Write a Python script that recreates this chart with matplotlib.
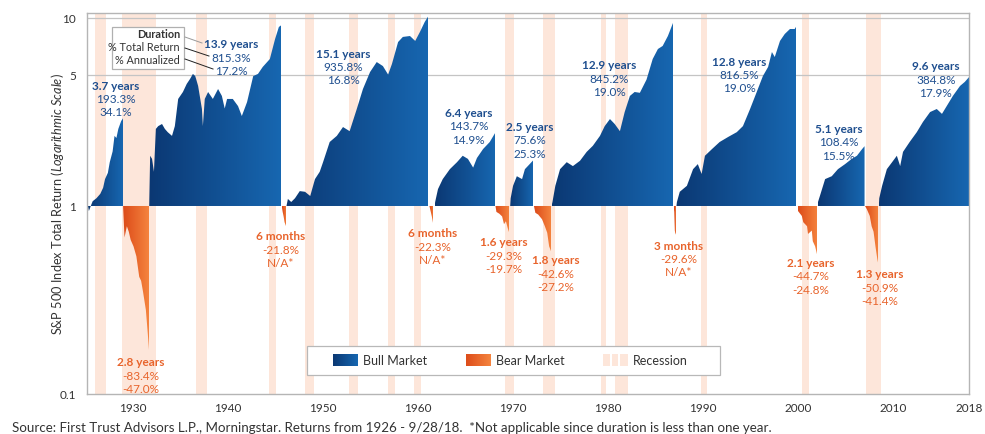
import numpy as np
import matplotlib
matplotlib.use('Agg')
import matplotlib.pyplot as plt
from matplotlib.colors import LinearSegmentedColormap
from matplotlib.patches import Polygon, Rectangle
from matplotlib.transforms import blended_transform_factory, ScaledTranslation

plt.rcParams['font.family'] = ['Lato', 'DejaVu Sans']
plt.rcParams['mathtext.fontset'] = 'custom'
plt.rcParams['mathtext.it'] = 'Lato:italic'
plt.rcParams['mathtext.rm'] = 'Lato'

# --- data: growth of $1 within each market phase ---
bull1_years = [1926.0, 1926.1, 1926.3, 1926.5, 1926.9, 1927.3, 1927.6, 1927.8, 1928.1, 1928.3, 1928.6, 1928.8, 1929.0, 1929.2, 1929.5, 1929.7]
bull1_vals = [1.00, 0.94, 1.00, 1.06, 1.10, 1.16, 1.25, 1.39, 1.50, 1.71, 1.95, 2.36, 2.30, 2.57, 2.83, 2.93]

bear1_years = [1929.7, 1929.85, 1930.1, 1930.3, 1930.5, 1930.8, 1931.1, 1931.4, 1931.6, 1931.8, 1932.1, 1932.3, 1932.45]
bear1_vals = [1.00, 0.68, 0.78, 0.73, 0.66, 0.61, 0.54, 0.42, 0.40, 0.35, 0.28, 0.21, 0.166]

bull2_years = [1932.45, 1932.55, 1932.75, 1932.95, 1933.15, 1933.4, 1933.8, 1934.1, 1934.4, 1934.85, 1935.15, 1935.5, 1936.0, 1936.4, 1936.75, 1937.05, 1937.3, 1937.6, 1938.0, 1938.1, 1938.3, 1938.65, 1939.15, 1939.7, 1940.1, 1940.4, 1940.65, 1941.25, 1941.8, 1942.2, 1942.75, 1943.4, 1943.9, 1944.4, 1945.15, 1945.7, 1946.1, 1946.35]
bull2_vals = [1.00, 1.85, 1.78, 1.52, 2.57, 2.66, 2.73, 2.57, 2.47, 2.36, 2.66, 3.71, 4.04, 4.46, 4.74, 5.04, 4.91, 4.35, 3.28, 2.66, 3.71, 4.04, 3.71, 4.19, 3.85, 3.30, 3.71, 3.71, 3.40, 3.01, 3.57, 4.91, 5.04, 5.49, 6.05, 7.73, 8.96, 9.15]

bear2_years = [1946.4, 1946.5, 1946.6, 1946.7, 1946.85]
bear2_vals = [1.00, 0.93, 0.88, 0.82, 0.782]

bull3_years = [1946.9, 1947.05, 1947.4, 1947.8, 1948.3, 1948.85, 1949.4, 1949.9, 1950.4, 1950.75, 1951.45, 1952.2, 1952.85, 1953.55, 1954.3, 1954.95, 1955.7, 1956.4, 1957.05, 1957.6, 1958.0, 1958.65, 1959.15, 1959.9, 1960.45, 1960.95, 1961.45, 1961.9]
bull3_vals = [1.00, 1.09, 1.05, 1.10, 1.20, 1.19, 1.13, 1.39, 1.52, 1.71, 2.19, 2.36, 2.63, 2.50, 3.28, 4.19, 5.16, 5.83, 5.55, 5.00, 5.69, 7.45, 7.93, 8.02, 7.55, 8.43, 9.52, 10.36]

bear3_years = [1961.95, 1962.05, 1962.2, 1962.35, 1962.45]
bear3_vals = [1.00, 0.95, 0.88, 0.80, 0.777]

bull4_years = [1962.5, 1962.55, 1962.85, 1963.35, 1964.1, 1964.85, 1965.45, 1966.0, 1966.55, 1966.95, 1967.6, 1968.3, 1968.85]
bull4_vals = [1.00, 1.05, 1.23, 1.39, 1.57, 1.71, 1.85, 1.78, 1.60, 1.80, 2.01, 2.19, 2.44]

bear4_years = [1968.9, 1969.0, 1969.3, 1969.6, 1969.8, 1970.0, 1970.2, 1970.4]
bear4_vals = [1.00, 0.93, 0.91, 0.88, 0.80, 0.83, 0.76, 0.707]

bull5_years = [1970.45, 1970.5, 1970.75, 1971.15, 1971.7, 1972.0, 1972.5, 1972.9]
bull5_vals = [1.00, 1.10, 1.28, 1.44, 1.39, 1.57, 1.67, 1.756]

bear5_years = [1972.95, 1973.1, 1973.4, 1973.8, 1974.1, 1974.35, 1974.55, 1974.75]
bear5_vals = [1.00, 0.92, 0.90, 0.85, 0.78, 0.72, 0.61, 0.574]

bull6_years = [1974.8, 1974.9, 1975.2, 1975.7, 1976.4, 1977.05, 1977.8, 1978.5, 1979.15, 1979.9, 1980.4, 1980.95, 1981.45, 1982.0, 1982.5, 1983.05, 1983.55, 1984.1, 1984.8, 1985.45, 1986.0, 1986.5, 1987.05, 1987.6]
bull6_vals = [1.00, 1.05, 1.28, 1.57, 1.71, 1.63, 1.74, 1.94, 2.09, 2.36, 2.66, 2.90, 2.73, 2.50, 3.16, 3.85, 4.04, 4.00, 4.70, 6.05, 6.84, 7.10, 8.02, 9.45]

bear6_years = [1987.65, 1987.72, 1987.78, 1987.85, 1987.9]
bear6_vals = [1.00, 0.93, 0.74, 0.704, 0.72]

bull7_years = [1987.95, 1988.0, 1988.3, 1989.05, 1989.7, 1990.2, 1990.6, 1990.95, 1991.7, 1992.5, 1993.4, 1994.3, 1994.95, 1995.7, 1996.4, 1997.05, 1997.6, 1998.0, 1998.3, 1998.85, 1999.35, 1999.9, 2000.4, 2000.65]
bull7_vals = [1.00, 1.05, 1.19, 1.28, 1.57, 1.67, 1.48, 1.85, 2.01, 2.19, 2.33, 2.47, 2.66, 3.28, 4.04, 4.91, 5.49, 6.59, 6.20, 7.55, 8.22, 8.74, 8.74, 9.17]

bear7_years = [2000.7, 2000.75, 2001.15, 2001.3, 2001.7, 2001.8, 2002.2, 2002.3, 2002.55, 2002.75]
bear7_vals = [1.00, 0.94, 0.885, 0.82, 0.78, 0.71, 0.74, 0.65, 0.61, 0.553]

bull8_years = [2002.8, 2002.85, 2003.05, 2003.6, 2004.3, 2004.95, 2005.7, 2006.4, 2006.95, 2007.5, 2007.75]
bull8_vals = [1.00, 1.05, 1.13, 1.39, 1.44, 1.57, 1.67, 1.78, 1.85, 2.01, 2.08]

bear8_years = [2007.8, 2008.0, 2008.3, 2008.5, 2008.7, 2008.9, 2009.1, 2009.2]
bear8_vals = [1.00, 0.96, 0.885, 0.78, 0.73, 0.61, 0.52, 0.491]

bull9_years = [2009.25, 2009.3, 2009.6, 2010.1, 2010.65, 2011.15, 2011.5, 2011.8, 2012.5, 2013.25, 2013.9, 2014.65, 2015.35, 2015.9, 2016.4, 2017.05, 2017.8, 2018.3, 2018.75]
bull9_vals = [1.00, 1.10, 1.28, 1.57, 1.71, 1.85, 1.63, 1.94, 2.19, 2.47, 2.80, 3.16, 3.28, 3.09, 3.40, 3.85, 4.35, 4.57, 4.85]

recession_starts = [1926.75, 1929.6, 1937.4, 1945.1, 1948.9, 1953.5, 1957.6, 1960.3, 1969.9, 1973.9, 1980.0, 1981.5, 1990.5, 2001.2, 2007.9]
recession_ends = [1927.87, 1933.2, 1938.5, 1945.8, 1949.8, 1954.4, 1958.3, 1961.1, 1970.9, 1975.2, 1980.5, 1982.9, 1991.2, 2001.9, 2009.5]

bull_text = [("3.7 years", "193.3%", "34.1%"), ("13.9 years", "815.3%", "17.2%"),
             ("15.1 years", "935.8%", "16.8%"), ("6.4 years", "143.7%", "14.9%"),
             ("2.5 years", "75.6%", "25.3%"), ("12.9 years", "845.2%", "19.0%"),
             ("12.8 years", "816.5%", "19.0%"), ("5.1 years", "108.4%", "15.5%"),
             ("9.6 years", "384.8%", "17.9%")]
bear_text = [("2.8 years", "-83.4%", "-47.0%"), ("6 months", "-21.8%", "N/A*"),
             ("6 months", "-22.3%", "N/A*"), ("1.6 years", "-29.3%", "-19.7%"),
             ("1.8 years", "-42.6%", "-27.2%"), ("3 months", "-29.6%", "N/A*"),
             ("2.1 years", "-44.7%", "-24.8%"), ("1.3 years", "-50.9%", "-41.4%")]

bulls = [(bull1_years, bull1_vals), (bull2_years, bull2_vals), (bull3_years, bull3_vals),
         (bull4_years, bull4_vals), (bull5_years, bull5_vals), (bull6_years, bull6_vals),
         (bull7_years, bull7_vals), (bull8_years, bull8_vals), (bull9_years, bull9_vals)]
bears = [(bear1_years, bear1_vals), (bear2_years, bear2_vals), (bear3_years, bear3_vals),
         (bear4_years, bear4_vals), (bear5_years, bear5_vals), (bear6_years, bear6_vals),
         (bear7_years, bear7_vals), (bear8_years, bear8_vals)]

# label anchors: x in years, y in axes fraction (top line)
bull_tx = [1928.95, 1941.1, 1952.85, 1966.1, 1972.5, 1980.85, 1994.6, 2005.05, 2015.25]
bull_ty = [0.811, 0.919, 0.895, 0.740, 0.703, 0.864, 0.874, 0.698, 0.861]
bear_tx = [1931.6, 1946.3, 1962.3, 1969.8, 1975.25, 1988.2, 2002.1, 2009.35]
bear_ty = [0.084, 0.415, 0.423, 0.399, 0.352, 0.391, 0.346, 0.315]

bull_cmap = LinearSegmentedColormap.from_list('bull', ['#0b3873', '#1767b1'])
bear_cmap = LinearSegmentedColormap.from_list('bear', ['#dd4c1a', '#f5853f'])
band_color = '#fde6da'
blue_txt = '#1f4f8f'
orange_txt = '#e8642c'

fig = plt.figure(figsize=(9.85, 4.35), dpi=100)
ax = fig.add_axes([0.0883, 0.092, 0.8955, 0.8758])
ax.set_yscale('log')

for a, b in zip(recession_starts, recession_ends):
    ax.axvspan(a, b, color=band_color, lw=0, zorder=0)

for lvl in [5, 10]:
    ax.axhline(lvl, color='#c4c4c4', lw=0.9, zorder=1)

grad = np.linspace(0, 1, 256).reshape(1, -1)


def gradient_fill(years, vals, cmap):
    verts = [(years[0], 1.0)] + list(zip(years, vals)) + [(years[-1], 1.0)]
    poly = Polygon(verts, closed=True, fc='none', ec='none')
    ax.add_patch(poly)
    im = ax.imshow(grad, extent=[years[0], years[-1], 0.1, 11], aspect='auto',
                   cmap=cmap, origin='lower', zorder=2, interpolation='bilinear')
    im.set_clip_path(poly)


for yrs, v in bulls:
    gradient_fill(yrs, v, bull_cmap)
for yrs, v in bears:
    gradient_fill(yrs, v, bear_cmap)

ax.set_aspect('auto')
ax.set_xlim(1925.9, 2018.75)
ax.set_ylim(0.1, 10.63)

ax.set_yticks([0.1, 1, 5, 10])
ax.set_yticklabels(['0.1', '1', '5', '10'])
ax.yaxis.set_minor_locator(matplotlib.ticker.NullLocator())
ax.set_xticks([1930, 1940, 1950, 1960, 1970, 1980, 1990, 2000, 2010, 2018])
ax.tick_params(length=0, labelsize=8.5, colors='#333333')
ax.tick_params(axis='y', pad=8)
ax.tick_params(axis='x', pad=6)
shift = ScaledTranslation(0.07, 0, fig.dpi_scale_trans)
for lab in ax.get_xticklabels():
    lab.set_transform(lab.get_transform() + shift)

for s in ax.spines.values():
    s.set_color('#b5b5b5')
    s.set_linewidth(1.0)

ax.set_ylabel(r'S&P 500 Index Total Return $\it{(Logarithmic\ Scale)}$', fontsize=9.2, color='#333333')
ax.yaxis.set_label_coords(-0.024, 0.5)

tr = blended_transform_factory(ax.transData, ax.transAxes)
step = 0.0354
for (l1, l2, l3), x, y in zip(bull_text, bull_tx, bull_ty):
    ax.text(x, y, l1, transform=tr, ha='center', va='center', fontsize=8.5, fontweight='bold', color=blue_txt, zorder=5)
    ax.text(x, y - step, l2, transform=tr, ha='center', va='center', fontsize=8.5, color=blue_txt, zorder=5)
    ax.text(x, y - 2 * step, l3, transform=tr, ha='center', va='center', fontsize=8.5, color=blue_txt, zorder=5)
for (l1, l2, l3), x, y in zip(bear_text, bear_tx, bear_ty):
    ax.text(x, y, l1, transform=tr, ha='center', va='center', fontsize=8.5, fontweight='bold', color=orange_txt, zorder=5)
    ax.text(x, y - step, l2, transform=tr, ha='center', va='center', fontsize=8.5, color=orange_txt, zorder=5)
    ax.text(x, y - 2 * step, l3, transform=tr, ha='center', va='center', fontsize=8.5, color=orange_txt, zorder=5)

# key box for the label lines
ax.add_patch(Rectangle((0.0283, 0.853), 0.0816, 0.110, transform=ax.transAxes,
                       fc='white', ec='#b0b0b0', lw=0.9, zorder=4))
ax.text(0.1054, 0.945, 'Duration', transform=ax.transAxes, ha='right', va='center', fontsize=7.8, fontweight='bold', color='#333333', zorder=5)
ax.text(0.1054, 0.913, '% Total Return', transform=ax.transAxes, ha='right', va='center', fontsize=7.8, color='#333333', zorder=5)
ax.text(0.1054, 0.879, '% Annualized', transform=ax.transAxes, ha='right', va='center', fontsize=7.8, color='#333333', zorder=5)
ax.plot([0.1111, 0.1304], [0.937, 0.9213], transform=ax.transAxes, color='#999999', lw=0.7, zorder=5)
ax.plot([0.1111, 0.1383], [0.9081, 0.8871], transform=ax.transAxes, color='#222222', lw=0.7, zorder=5)
ax.plot([0.1111, 0.1429], [0.8793, 0.853], transform=ax.transAxes, color='#222222', lw=0.7, zorder=5)

# legend
ax.add_patch(Rectangle((0.2494, 0.0499), 0.468, 0.0761, transform=ax.transAxes,
                       fc='white', ec='#b8b8b8', lw=0.9, zorder=4))
for x0, cm in [(333, bull_cmap), (466, bear_cmap)]:
    sw = fig.add_axes([x0 / 985, 68 / 435, 25 / 985, 12 / 435])
    sw.imshow(grad, aspect='auto', cmap=cm)
    sw.axis('off')
for x0, w in [(603, 7), (612, 6), (620, 8)]:
    fig.patches.append(Rectangle((x0 / 985, 68 / 435), w / 985, 12 / 435,
                                 transform=fig.transFigure, fc=band_color, ec='none'))
ax.text(0.313, 0.089, 'Bull Market', transform=ax.transAxes, va='center', fontsize=9, color='#333333', zorder=5)
ax.text(0.4637, 0.089, 'Bear Market', transform=ax.transAxes, va='center', fontsize=9, color='#333333', zorder=5)
ax.text(0.619, 0.089, 'Recession', transform=ax.transAxes, va='center', fontsize=9, color='#333333', zorder=5)

fig.text(12 / 985, 7 / 435, 'Source: First Trust Advisors L.P., Morningstar. Returns from 1926 - 9/28/18.  '
         '*Not applicable since duration is less than one year.', fontsize=9.6, color='#333333', va='center')

fig.savefig('out.png', dpi=100)
